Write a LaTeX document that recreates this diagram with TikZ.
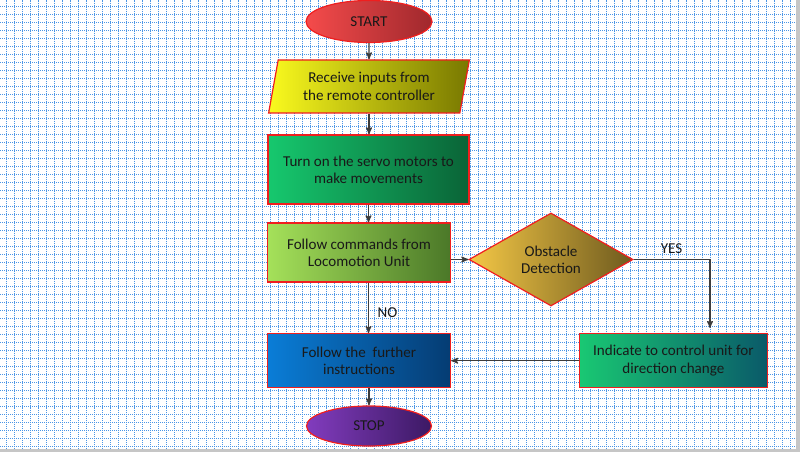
\documentclass[tikz,border=0pt]{standalone}
\usepackage{fontspec}
\setmainfont{Carlito}
\usepackage{tikz}
\usetikzlibrary{arrows,shapes,positioning}

\definecolor{gridblue}{RGB}{75,150,230}
\definecolor{edgered}{RGB}{240,30,30}
\definecolor{linegray}{RGB}{60,60,60}
\definecolor{startl}{RGB}{245,75,75}
\definecolor{startr}{RGB}{160,40,45}
\definecolor{inputl}{RGB}{250,250,30}
\definecolor{inputr}{RGB}{120,120,0}
\definecolor{servol}{RGB}{22,200,110}
\definecolor{servor}{RGB}{10,100,55}
\definecolor{followl}{RGB}{165,225,90}
\definecolor{followr}{RGB}{75,120,40}
\definecolor{detectl}{RGB}{245,200,70}
\definecolor{detectr}{RGB}{110,90,30}
\definecolor{furtherl}{RGB}{10,125,215}
\definecolor{furtherr}{RGB}{5,60,115}
\definecolor{indicatel}{RGB}{25,200,115}
\definecolor{indicater}{RGB}{10,90,105}
\definecolor{stopl}{RGB}{130,60,190}
\definecolor{stopr}{RGB}{60,25,100}

\tikzset{
    gridline/.style={gridblue,line width=0.75pt,dash pattern=on 0.75pt off 0.75pt,step=6pt},
    box/.style={draw=edgered,line width=0.9pt,align=center,inner sep=0pt,text=black!90,font=\fontsize{11.3}{13}\selectfont},
    terminal/.style={box,ellipse},
    io/.style={box,trapezium,trapezium left angle=76,trapezium right angle=104,trapezium stretches=true},
    proc/.style={box,rectangle},
    decision/.style={box,diamond},
    flow/.style={draw=linegray,line width=0.9pt,-stealth'},
    lbl/.style={text=black!90,font=\fontsize{11.3}{13}\selectfont}
}

\begin{document}
\begin{tikzpicture}[x=0.75pt,y=-0.75pt]
    \useasboundingbox (0,0) rectangle (800,452);
    \fill[gray!45] (0,0) rectangle (800,452);
    \fill[white] (0,0) rectangle (796,449);
    \begin{scope}
        \clip (0,0) rectangle (796,449);
        \draw[gridline,shift={(6.5,6.5)}] (-6.5,-6.5) grid (800,452);
    \end{scope}

    \node[terminal,minimum width=94.5pt,minimum height=31.5pt,left color=startl,right color=startr] (start) at (369,21.5) {START};
    \node[io,minimum width=150.75pt,minimum height=39.75pt,left color=inputl,right color=inputr] (input) at (369,86.5) {Receive inputs from\\the remote controller};
    \node[proc,minimum width=150.75pt,minimum height=51.75pt,left color=servol,right color=servor] (servo) at (368.5,169.5) {Turn on the servo motors to\\make movements};
    \node[proc,minimum width=137.25pt,minimum height=44.25pt,left color=followl,right color=followr] (follow) at (359,252.5) {Follow commands from\\Locomotion Unit};
    \node[decision,minimum width=123pt,minimum height=69.75pt,left color=detectl,right color=detectr] (detect) at (551,259.5) {Obstacle\\Detection};
    \node[proc,minimum width=137.25pt,minimum height=40.5pt,left color=furtherl,right color=furtherr] (further) at (359,360.7) {Follow the\ \ further\\instructions};
    \node[proc,minimum width=140.7pt,minimum height=40.5pt,left color=indicatel,right color=indicater] (indicate) at (673.4,360.7) {Indicate to control unit for\\direction change};
    \node[terminal,minimum width=93.75pt,minimum height=30pt,left color=stopl,right color=stopr] (stop) at (369,426) {STOP};
    \coordinate (yesend) at (710,328);
    \node[lbl] (yes) at (671.5,249) {YES};
    \node[lbl] (no) at (387.5,313) {NO};

    \draw[flow] (start) -- (input);
    \draw[flow] (input.south) -- (input.south |- servo.north);
    \draw[flow] (servo.south) -- (servo.south |- follow.north);
    \draw[flow] (detect.west -| follow.east) -- (detect.west);
    \draw[flow] (detect.east) -| (yesend);
    \draw[flow] (servo.south |- follow.south) -- (servo.south |- further.north);
    \draw[flow] (indicate.west) -- (further.east);
    \draw[flow] (further.south -| stop.north) -- (stop.north);
\end{tikzpicture}
\end{document}
